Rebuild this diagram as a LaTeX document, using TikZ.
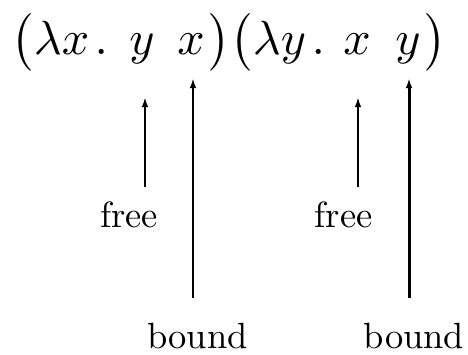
\documentclass[tikz,border=0pt]{standalone}
\usetikzlibrary{arrows.meta}
\begin{document}
\begin{tikzpicture}[x=1pt,y=-1pt,
  sym/.style={inner sep=0pt,scale=4.8,anchor=base},
  symw/.style={inner sep=0pt,scale=4.8,anchor=base west},
  lbl/.style={inner sep=0pt,scale=3.65,anchor=base},
  arr/.style={-{Latex[length=10pt,width=6.5pt]}},
  freearr/.style={arr,line width=1.9pt},
  boundarr/.style={arr,line width=2.2pt},
]
\useasboundingbox (0,0) rectangle (468,354);
% formula
\node[symw] (lp1) at (11,54) {$\bigl(\lambda x\mkern2mu.$};
\node[sym] (y1) at (142,54) {$y$};
\node[sym] (x1) at (191,54) {$x$};
\node[symw] (mid) at (208,54) {$\bigr)\bigl(\lambda y\mkern2mu.$};
\node[sym] (x2) at (357,54) {$x$};
\node[sym] (y2) at (408,54) {$y$};
\node[symw] (rp2) at (424,54) {$\bigr)$};
% labels
\node[lbl] (free1) at (129,227) {free};
\node[lbl] (free2) at (343.5,227) {free};
\node[lbl] (bound1) at (197.5,348) {bound};
\node[lbl] (bound2) at (414,348) {bound};
% arrow ends
\coordinate (t1) at (145,97);
\coordinate (s1) at (145,187);
\coordinate (t2) at (193,78);
\coordinate (s2) at (193,298);
\coordinate (t3) at (358,97);
\coordinate (s3) at (358,187);
\coordinate (t4) at (409,78);
\coordinate (s4) at (409,298);
\draw[freearr] (s1) -- (t1);
\draw[boundarr] (s2) -- (t2);
\draw[freearr] (s3) -- (t3);
\draw[boundarr,line width=3pt] (s4) -- (t4);
\end{tikzpicture}
\end{document}
